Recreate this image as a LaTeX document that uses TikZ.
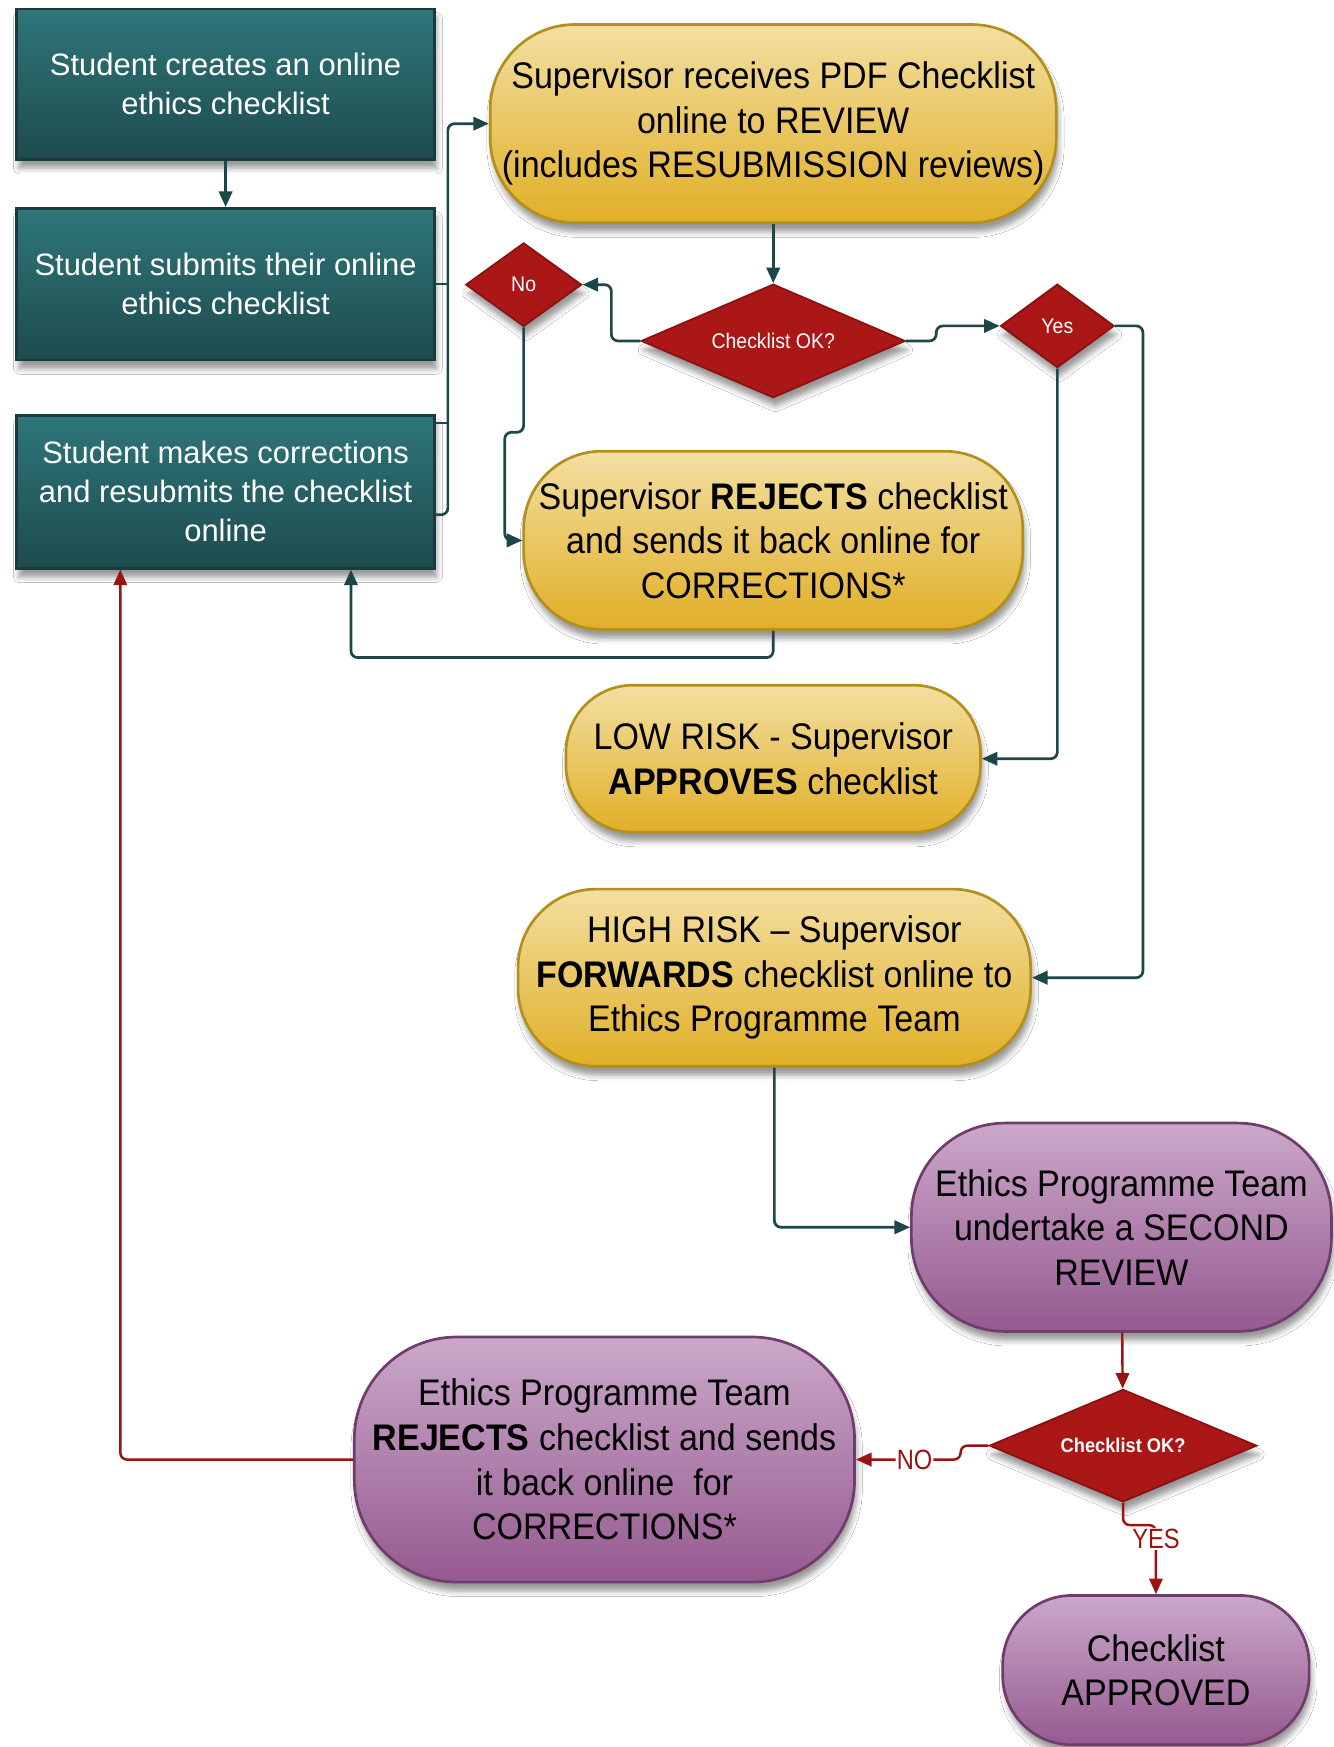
\documentclass[tikz,border=0pt]{standalone}
\usepackage{fontspec}
\setmainfont{Liberation Sans}
\newfontfamily\pillfont[FakeStretch=0.92]{Liberation Sans}
\newfontfamily\labfont[FakeStretch=0.85]{Liberation Sans}
\usetikzlibrary{shapes.geometric,arrows.meta,shadows.blur,calc}
\definecolor{tealtop}{HTML}{2E767A}
\definecolor{tealbot}{HTML}{1E4B4E}
\definecolor{tealedge}{HTML}{1A3B3D}
\definecolor{goldtop}{HTML}{F3DFA2}
\definecolor{goldbot}{HTML}{E1AF27}
\definecolor{goldedge}{HTML}{B38F1D}
\definecolor{purtop}{HTML}{CBA8CA}
\definecolor{purbot}{HTML}{955A90}
\definecolor{puredge}{HTML}{6F3C6B}
\definecolor{dred}{HTML}{AB1616}
\definecolor{dredge}{HTML}{8C1111}
\definecolor{tconn}{HTML}{1D4649}
\definecolor{rconn}{HTML}{9A1313}
\tikzset{
  shad/.style={blur shadow={shadow xshift=1pt, shadow yshift=-4pt, shadow blur radius=2.5pt, shadow opacity=40}},
  tealbox/.style={shad, draw=tealedge, line width=1.2pt, top color=tealtop, bottom color=tealbot,
    text=white, align=center, inner sep=0pt, minimum width=187.5pt,
    font=\fontsize{13.9}{17.5}\selectfont},
  goldpill/.style={shad, draw=goldedge, line width=1.2pt, top color=goldtop, bottom color=goldbot,
    align=center, inner sep=0pt, font=\pillfont\fontsize{16.6}{20}\selectfont},
  purpill/.style={shad, draw=puredge, line width=1.2pt, top color=purtop, bottom color=purbot,
    align=center, inner sep=0pt, font=\pillfont\fontsize{16.6}{20}\selectfont},
  decision/.style={shad, diamond, draw=dredge, line width=0.8pt, fill=dred, text=white, inner sep=0pt,
    font=\pillfont\fontsize{9.5}{11}\selectfont},
  conn/.style={draw=tconn, line width=1.2pt, rounded corners=3pt, -{Triangle[length=7pt,width=6pt]}},
  plainconn/.style={draw=tconn, line width=1.2pt, rounded corners=3pt},
  rconnect/.style={draw=rconn, line width=1.1pt, rounded corners=3pt, -{Triangle[length=7pt,width=6pt]}},
  lab/.style={fill=white, text=rconn, inner sep=0.5pt, font=\labfont\fontsize{12.5}{13}\selectfont}
}
\begin{document}
\begin{tikzpicture}[x=0.5pt,y=-0.5pt]
\useasboundingbox (0,0) rectangle (1197,1568);
\fill[white] (0,0) rectangle (1197,1568);

% student boxes
\node[tealbox, minimum height=67.5pt] (s1) at (202.5,75.5) {Student creates an online\\ethics checklist};
\node[tealbox, minimum height=68pt] (s2) at (202.5,255) {Student submits their online\\ethics checklist};
\node[tealbox, minimum height=68.5pt] (s3) at (202.5,441.5) {Student makes corrections\\and resubmits the checklist\\online};

% supervisor
\node[goldpill, minimum width=254pt, minimum height=89pt, rounded corners=38pt] (sup) at (694,111)
  {Supervisor receives PDF Checklist\\online to REVIEW\\(includes RESUBMISSION reviews)};
\node[decision, aspect=2.3, minimum width=118.5pt, minimum height=51pt] (dec1) at (694,306) {Checklist OK?};
\node[decision, aspect=1.4, minimum width=52pt, minimum height=37.5pt] (no) at (470,255.5) {No};
\node[decision, aspect=1.4, minimum width=51pt, minimum height=37.5pt] (yes) at (949,292.5) {Yes};
\node[goldpill, minimum width=224pt, minimum height=80pt, rounded corners=35pt] (rej) at (694,485)
  {Supervisor \textbf{REJECTS} checklist\\and sends it back online for\\CORRECTIONS*};
\node[goldpill, minimum width=186pt, minimum height=66pt, rounded corners=30pt] (low) at (694,681)
  {LOW RISK - Supervisor\\\textbf{APPROVES} checklist};
\node[goldpill, minimum width=230pt, minimum height=79.5pt, rounded corners=35pt] (high) at (695,877.5)
  {HIGH RISK – Supervisor\\\textbf{FORWARDS} checklist online to\\Ethics Programme Team};

% ethics team
\node[purpill, minimum width=188.5pt, minimum height=93.5pt, rounded corners=42pt] (second) at (1006.5,1101.5)
  {Ethics Programme Team\\undertake a SECOND\\REVIEW};
\node[decision, aspect=2.3, minimum width=120pt, minimum height=50.5pt, font=\pillfont\bfseries\fontsize{8.9}{10}\selectfont] (dec2) at (1008,1297.5) {Checklist OK?};
\node[purpill, minimum width=224.5pt, minimum height=110pt, rounded corners=46pt] (ept) at (542.5,1310)
  {Ethics Programme Team\\\textbf{REJECTS} checklist and sends\\it back online\ \ for\\CORRECTIONS*};
\node[purpill, minimum width=137.5pt, minimum height=67pt, rounded corners=31pt] (appr) at (1037.5,1499)
  {Checklist\\APPROVED};

% connectors
\coordinate (bx) at (402,0);
\draw[conn] (s1) -- (s2);
\draw[conn] ($(s3.east)+(0,20.5)$) -| (bx |- sup.west) -- (sup.west);
\draw[plainconn] (s2.east) -- (s2.east -| bx);
\draw[plainconn] ($(s3.north east)+(0,8)$) -- ($(s3.north east)+(12,8)$);
\draw[conn] (sup) -- (dec1);
\draw[conn] (dec1.west) -- ++(-26,0) |- (no.east);
\draw[conn] (dec1.east) -- ++(27,0) |- (yes.west);
\draw[conn] (no.south) |- (453,388) |- (rej.west);
\draw[conn] (rej.south) -- ++(0,24) -| ($(s3.south)+(112.5,0)$);
\draw[conn] (yes.south) |- (low.east);
\draw[conn] (yes.east) -- ++(25,0) |- (high.east);
\draw[conn] (high.south) |- (second.west);
\draw[rconnect] (second) -- (dec2);
\draw[rconnect] (dec2.west) -- ++(-25,0) |- (ept.east) node[lab, pos=0.72] {NO};
\draw[rconnect] (dec2.south) -- ++(0,20) -| (appr.north) node[lab, pos=0.6] {YES};
\draw[rconnect] (ept.west) -| ($(s3.south)+(-94.5,0)$);
\end{tikzpicture}
\end{document}
